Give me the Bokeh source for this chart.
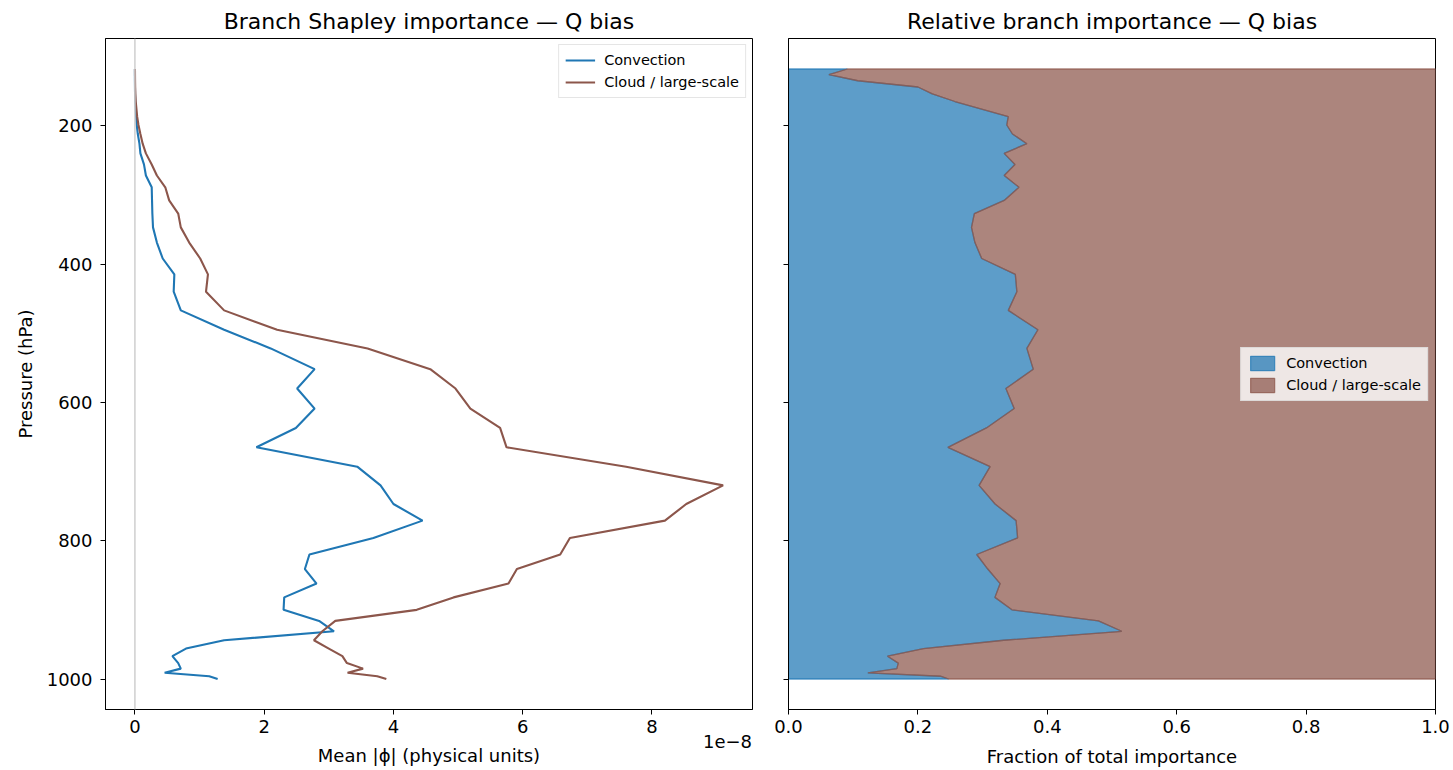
import numpy as np
from bokeh.plotting import figure
from bokeh.models import (Range1d, Legend, LegendItem, FixedTicker, LinearAxis,
                          Span, NumeralTickFormatter)
from bokeh.layouts import row
from bokeh.embed import file_html
from bokeh.resources import INLINE

# Model level pressures (hPa)
pressure_hpa = [118, 126, 135, 144, 154, 165, 187, 199, 212, 226, 240, 256, 272,
                289, 308, 327, 347, 369, 392, 415, 440, 467, 495, 522, 552, 580,
                609, 637, 665, 693, 720, 747, 771, 796, 820, 841, 862, 882, 900,
                916, 931, 944, 956, 967, 977, 985, 991, 996, 1000]

# Mean |phi| per branch, in units of 1e-8
convection_phi = [0.0001, 0.0001, 0.0003, 0.001, 0.002, 0.0045, 0.018, 0.028,
                  0.045, 0.07, 0.085, 0.14, 0.17, 0.26, 0.265, 0.27, 0.28, 0.34,
                  0.43, 0.61, 0.60, 0.71, 1.38, 2.10, 2.78, 2.51, 2.78, 2.49,
                  1.88, 3.44, 3.80, 4.00, 4.45, 3.69, 2.70, 2.63, 2.81, 2.31,
                  2.30, 2.85, 3.08, 1.38, 0.79, 0.58, 0.67, 0.71, 0.46, 1.15,
                  1.28]
cloud_phi = [0.001, 0.0015, 0.0025, 0.004, 0.007, 0.013, 0.035, 0.055, 0.085,
             0.12, 0.17, 0.26, 0.34, 0.47, 0.53, 0.67, 0.71, 0.84, 1.01, 1.13,
             1.10, 1.38, 2.20, 3.60, 4.57, 4.96, 5.19, 5.65, 5.75, 7.60, 9.10,
             8.53, 8.20, 6.73, 6.58, 5.91, 5.78, 4.93, 4.36, 3.10, 2.90, 2.77,
             3.00, 3.21, 3.28, 3.53, 3.29, 3.75, 3.89]

series_labels = ["Convection", "Cloud / large-scale"]
colors = ["#1f77b4", "#8c564b"]
x_ticks = [0, 2, 4, 6, 8]
frac_ticks = [0.0, 0.2, 0.4, 0.6, 0.8, 1.0]
p_ticks = [200, 400, 600, 800, 1000]
x_scale_text = "1e\u22128"

FONT = "DejaVu Sans"
TICK_SIZE = "18px"
FRAME_W = 647  # plot-area width in pixels

p_arr = np.array(pressure_hpa, dtype=float)
conv = np.array(convection_phi)
cloud = np.array(cloud_phi)
frac_conv = conv / (conv + cloud)

pad_p = 0.05 * (p_arr.max() - p_arr.min())
y_range = Range1d(p_arr.max() + pad_p, p_arr.min() - pad_p)
xmax = max(conv.max(), cloud.max())
pad_x = 0.05 * xmax
x_lo, x_hi = -pad_x, xmax + pad_x


def style_axis(ax):
    ax.axis_line_color = "#000000"
    ax.major_tick_line_color = "#000000"
    ax.major_tick_out = 5
    ax.major_tick_in = 0
    ax.minor_tick_line_color = None
    ax.major_label_text_font = FONT
    ax.major_label_text_font_size = TICK_SIZE
    ax.major_label_text_color = "#000000"
    ax.major_label_standoff = 5
    ax.axis_label_text_font = FONT
    ax.axis_label_text_font_size = TICK_SIZE
    ax.axis_label_text_font_style = "normal"
    ax.axis_label_text_color = "#000000"


def style(fig):
    fig.title.text_font = FONT
    fig.title.text_font_size = "22px"
    fig.title.text_font_style = "normal"
    fig.title.align = "center"
    fig.title.text_color = "#000000"
    fig.title.standoff = 9
    fig.grid.grid_line_color = None
    fig.outline_line_color = "#000000"
    fig.outline_line_width = 1
    fig.outline_line_alpha = 1
    style_axis(fig.xaxis[0])
    style_axis(fig.yaxis[0])
    fig.yaxis.ticker = FixedTicker(ticks=p_ticks)


def style_legend(leg, margin):
    leg.label_text_font = FONT
    leg.label_text_font_size = "14.5px"
    leg.label_text_color = "#000000"
    leg.border_line_color = "#cccccc"
    leg.background_fill_alpha = 0.8
    leg.margin = margin
    leg.padding = 6
    leg.spacing = 4
    leg.glyph_width = 30
    leg.glyph_height = 18
    leg.label_standoff = 9
    leg.label_height = 18


# ---- Left: absolute branch importance profiles ----
p1 = figure(width=770, height=770, output_backend="svg", toolbar_location=None,
            x_range=Range1d(x_lo, x_hi), y_range=y_range,
            min_border_left=105, min_border_right=18, min_border_top=38,
            min_border_bottom=61,
            title="Branch Shapley importance \u2014 Q bias")
style(p1)
p1.xaxis[0].ticker = FixedTicker(ticks=x_ticks)
p1.yaxis.axis_label = "Pressure (hPa)"
p1.yaxis.axis_label_standoff = 8
p1.yaxis.major_label_standoff = 8

# second bottom axis: carries the 1e-8 scale factor at the right end
# and the axis title
scale_pos = x_hi - 25 * (x_hi - x_lo) / FRAME_W
scale_axis = LinearAxis(ticker=FixedTicker(ticks=[scale_pos]),
                        major_label_overrides={scale_pos: x_scale_text},
                        axis_label="Mean |\u03d5| (physical units)")
style_axis(scale_axis)
scale_axis.axis_line_color = None
scale_axis.major_tick_line_color = None
scale_axis.major_tick_out = 0
scale_axis.major_label_standoff = -1
scale_axis.axis_label_standoff = -6
p1.add_layout(scale_axis, "below")

p1.add_layout(Span(location=0, dimension="height", line_color="#cfcfcf",
                   line_width=1.5))

r_conv = p1.line(conv, p_arr, line_color=colors[0], line_width=2.1)
r_cloud = p1.line(cloud, p_arr, line_color=colors[1], line_width=2.1)

leg1 = Legend(items=[LegendItem(label=series_labels[0], renderers=[r_conv]),
                     LegendItem(label=series_labels[1], renderers=[r_cloud])],
              location="top_right")
style_legend(leg1, 6)
p1.add_layout(leg1)

# ---- Right: relative branch importance (stacked fractions) ----
p2 = figure(width=683, height=770, output_backend="svg", toolbar_location=None,
            x_range=Range1d(0, 1), y_range=y_range,
            min_border_left=18, min_border_right=18, min_border_top=38,
            min_border_bottom=61,
            title="Relative branch importance \u2014 Q bias")
style(p2)
p2.xaxis.axis_label = "Fraction of total importance"
p2.xaxis.axis_label_standoff = 10
p2.xaxis.ticker = FixedTicker(ticks=frac_ticks)
p2.xaxis.formatter = NumeralTickFormatter(format="0.0")
p2.yaxis.major_label_overrides = {t: "" for t in p_ticks}

poly_y = np.concatenate([p_arr, p_arr[::-1]])
conv_x = np.concatenate([frac_conv, np.zeros_like(frac_conv)])
cloud_x = np.concatenate([frac_conv, np.ones_like(frac_conv)])

r_fc = p2.patch(conv_x, poly_y, fill_color=colors[0], fill_alpha=0.72,
                line_color=colors[0], line_alpha=0.72, line_width=1.3)
r_fl = p2.patch(cloud_x, poly_y, fill_color=colors[1], fill_alpha=0.72,
                line_color=colors[1], line_alpha=0.72, line_width=1.3)

leg2 = Legend(items=[LegendItem(label=series_labels[0], renderers=[r_fc]),
                     LegendItem(label=series_labels[1], renderers=[r_fl])],
              location="center_right")
style_legend(leg2, 7)
p2.add_layout(leg2)

layout = row(p1, p2)
open("out.html", "w").write(file_html(layout, INLINE))
